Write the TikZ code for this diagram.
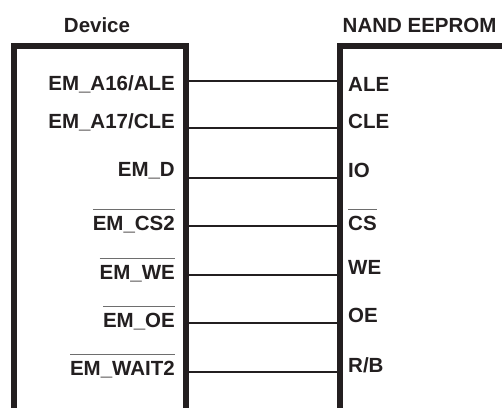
\documentclass[tikz,border=0pt]{standalone}
\usepackage{fontspec}
\setmainfont{Liberation Sans}
\usepackage{xcolor}
\usepackage{tikz}
\usetikzlibrary{positioning,calc}
\definecolor{ink}{HTML}{231F20}
\definecolor{bar}{HTML}{6E6E6E}
\tikzset{
  chip/.style={rectangle, draw=ink, line width=6pt, fill=none, inner sep=0pt},
  pinl/.style={anchor=base east, inner sep=0pt, text=ink, font=\pinfont},
  pinr/.style={anchor=base west, inner sep=0pt, text=ink, font=\pinfont},
  ttl/.style={inner sep=0pt, text=ink, font=\pinfont},
  sig/.style={draw=ink, line width=2pt}
}
\newcommand{\pinfont}{\fontsize{20.5}{24}\selectfont\bfseries}
% active-low signal: bar over the name
\newcommand{\lowbar}[1]{\leavevmode\vbox{{\color{bar}\hrule height 1.1pt}\kern 5.6pt\hbox{#1}}}

\begin{document}
\begin{tikzpicture}[x=1pt,y=-1pt]
  \useasboundingbox (0,0) rectangle (502,407);
  \clip (0,0) rectangle (502,407);
  \node[chip, minimum width=172.5pt, minimum height=420pt, anchor=north west] (dev) at (10.5,42.5) {};
  \node[chip, minimum width=240pt, minimum height=420pt, anchor=north west] (nand) at (337,42.5) {};
  \node[ttl] (devname) at (97,25) {Device};
  \node[ttl, anchor=west] (nandname) at (342.5,25) {NAND EEPROM};
  \foreach \i/\y/\lb/\lt/\rb/\rt in {
      1/80.7/90/{EM\_A16/ALE}/91/{ALE},
      2/128/128/{EM\_A17/CLE}/128/{CLE},
      3/178/176.5/{EM\_D}/177/{IO},
      4/226/230/{\lowbar{EM\_CS2}}/230/{\lowbar{CS}},
      5/275/279/{\lowbar{EM\_WE}}/274/{WE},
      6/323/327/{\lowbar{EM\_OE}}/322/{OE},
      7/372/375/{\lowbar{EM\_WAIT2}}/372/{R/B}} {
    \node[pinl] (lpin\i) at (175,\lb) {\lt};
    \node[pinr] (rpin\i) at (348,\rb) {\rt};
    \draw[sig] (dev.east |- 0,\y) -- (nand.west |- 0,\y);
  }
\end{tikzpicture}
\end{document}
